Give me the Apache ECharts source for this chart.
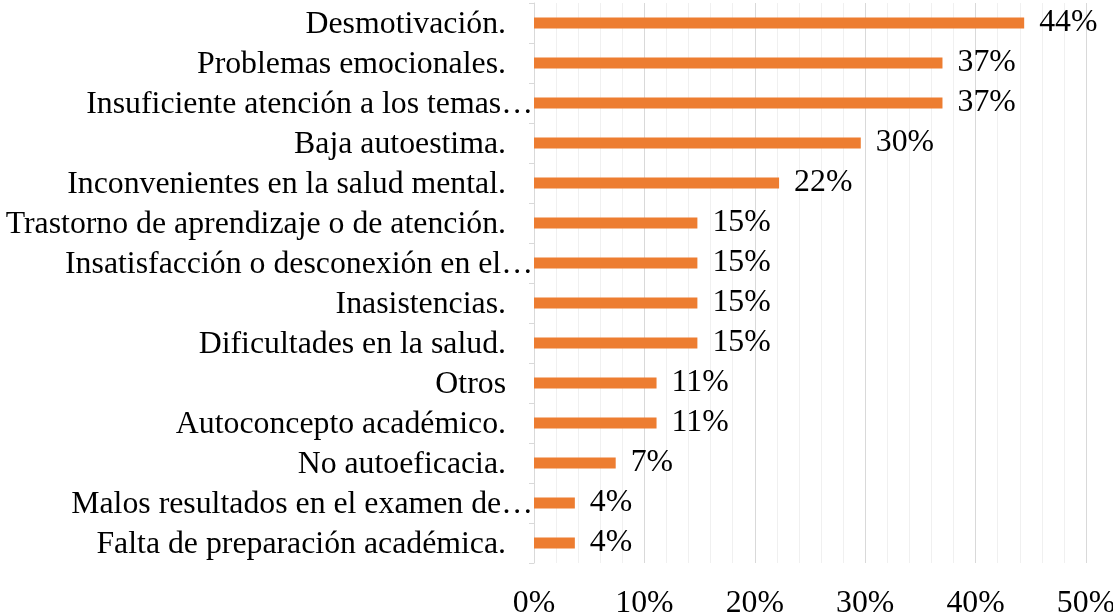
<!DOCTYPE html>
<html>
<head>
<meta charset="utf-8">
<script src="https://cdn.jsdelivr.net/npm/echarts@6/dist/echarts.min.js"></script>
<style>
  html, body { margin: 0; padding: 0; background: #fff; }
  #chart { width: 1113px; height: 615px; }
</style>
</head>
<body>
<div id="chart"></div>
<script>
// categorías (de arriba a abajo)
const categories = [
  "Desmotivación.",
  "Problemas emocionales.",
  "Insuficiente atención a los temas…",
  "Baja autoestima.",
  "Inconvenientes en la salud mental.",
  "Trastorno de aprendizaje o de atención.",
  "Insatisfacción o desconexión en el…",
  "Inasistencias.",
  "Dificultades en la salud.",
  "Otros",
  "Autoconcepto académico.",
  "No autoeficacia.",
  "Malos resultados en el examen de…",
  "Falta de preparación académica."
];
// porcentajes
const values = [44.4, 37.0, 37.0, 29.6, 22.2, 14.8, 14.8, 14.8, 14.8, 11.1, 11.1, 7.4, 3.7, 3.7];
const xTicks = [0, 10, 20, 30, 40, 50];

const FONT = "'Liberation Serif', 'Times New Roman', serif";
const FS = 31.8;
const chart = echarts.init(document.getElementById("chart"));

chart.setOption({
  animation: false,
  backgroundColor: "#fff",
  grid: { left: 534, right: 27, top: 3, bottom: 52, containLabel: false, outerBoundsMode: "none" },
  xAxis: {
    type: "value",
    min: xTicks[0],
    max: xTicks[xTicks.length - 1],
    interval: 10,
    axisLine: { show: false },
    axisTick: { show: false },
    axisLabel: {
      margin: 25,
      color: "#000",
      fontFamily: FONT,
      fontSize: FS,
      formatter: (v) => v + "%"
    },
    splitLine: { show: true, lineStyle: { color: "#d9d9d9", width: 1 } },
    minorTick: { show: false, splitNumber: 5 },
    minorSplitLine: { show: true, lineStyle: { color: "#f0f0f0", width: 1 } }
  },
  yAxis: {
    type: "category",
    inverse: true,
    data: categories,
    axisLine: { show: true, lineStyle: { color: "#d9d9d9", width: 1 } },
    axisTick: { show: true, length: 5, lineStyle: { color: "#d9d9d9" } },
    axisLabel: {
      interval: 0,
      hideOverlap: false,
      margin: 1,
      color: "#000",
      fontFamily: FONT,
      fontSize: FS,
      padding: [3, 0, 0, 0],
      formatter: (v) => v.endsWith("…") ? "{t|" + v + "}" : "{t|" + v + "}{g| }",
      rich: {
        t: { fontFamily: FONT, fontSize: FS, color: "#000" },
        g: { width: 27, fontSize: FS }
      }
    }
  },
  series: [{
    type: "bar",
    data: values,
    barWidth: 11,
    itemStyle: { color: "#ED7D31" },
    label: {
      show: true,
      position: "right",
      distance: 15,
      color: "#000",
      fontFamily: FONT,
      fontSize: FS,
      padding: [3, 0, 0, 0],
      formatter: (p) => Math.round(p.value) + "%"
    }
  }]
});
</script>
</body>
</html>
